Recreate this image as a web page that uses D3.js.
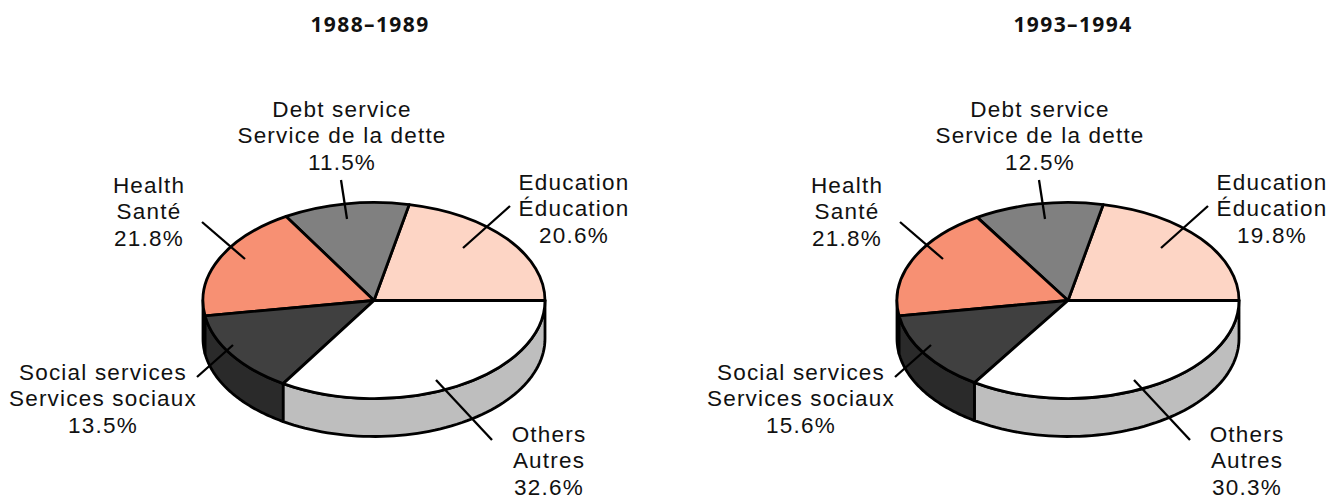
<!DOCTYPE html>
<html>
<head>
<meta charset="utf-8">
<script src="https://cdn.jsdelivr.net/npm/d3@7"></script>
<style>
  html, body { margin: 0; background: #fff; }
  svg { display: block; }
  text { font-family: "Liberation Sans", sans-serif; fill: #111; font-variant-ligatures: none; }
</style>
</head>
<body>
<svg id="chart"></svg>
<script>
// Data
const years = ["1988–1989", "1993–1994"];
const namesEn = ["Education", "Debt service", "Health", "Social services", "Others"];
const namesFr = ["Éducation", "Service de la dette", "Santé", "Services sociaux", "Autres"];
// printed percentages
const printed88 = [20.6, 11.5, 21.8, 13.5, 32.6];
const printed93 = [19.8, 12.5, 21.8, 15.6, 30.3];
// slice sizes as actually drawn in the picture, they differ a bit from the printed numbers
const drawn88 = [21.7, 11.9, 18.9, 13.6, 33.9];
const drawn93 = [21.7, 12.2, 18.6, 13.3, 34.2];

const topColors = ["#fdd5c5", "#808080", "#f79073", "#404040", "#ffffff"];
const wallColors = ["#2a2a2a", "#2a2a2a", "#2a2a2a", "#2a2a2a", "#bebebe"];

// Configurations
const width = 1343;
const height = 500;
const rx = 171; // pie radius, horizontal
const ry = 98; // pie radius, vertical
const depth = 38; // height of the side wall
const lineHeight = 26.4;

const panels = [
    {title: years[0], titleX: 370, cx: 374, cy: 300.5, printed: printed88, drawn: drawn88, labelDx: 0},
    {title: years[1], titleX: 1073, cx: 1068, cy: 300.5, printed: printed93, drawn: drawn93, labelDx: 698}
];

// label centre (x, first baseline) and leader line, relative to the left pie
const labelPos = [[574, 190], [342, 117], [149, 193], [103, 380], [549, 442]];
const leaders = [
    [[510, 206], [463, 248]],
    [[341, 180], [347, 219]],
    [[202, 222], [245, 259]],
    [[197, 377], [233, 345]],
    [[492, 440], [436, 380]]
];

const svg = d3.select("#chart")
    .attr("width", width)
    .attr("height", height)
    .attr("viewBox", [0, 0, width, height]);

const pie = d3.pie()
    .sort(null)
    .startAngle(Math.PI / 2)
    .endAngle(Math.PI / 2 - 2 * Math.PI);

const arc = d3.arc().innerRadius(0).outerRadius(1);

panels.forEach(p => {
    const x = d3.scaleLinear([-1, 1], [p.cx - rx, p.cx + rx]);
    const y = d3.scaleLinear([-1, 1], [p.cy - ry, p.cy + ry]);
    const arcs = pie(p.drawn);

    svg.append("text")
        .attr("x", p.titleX)
        .attr("y", 32)
        .attr("text-anchor", "middle")
        .attr("font-size", 21)
        .attr("font-weight", 700)
        .attr("letter-spacing", 1.4)
        .style("font-family", '"Open Sans", sans-serif')
        .text(p.title);

    // side wall, only the front half of the ellipse shows
    const wall = d3.area()
        .x(a => x(Math.sin(a)))
        .y0(a => y(-Math.cos(a)))
        .y1(a => y(-Math.cos(a)) + depth);

    arcs.forEach((d, i) => {
        const from = Math.min(d.startAngle, -Math.PI / 2);
        const to = d.endAngle;
        if (from <= to) return;
        const angles = d3.range(61).map(k => from + (to - from) * k / 60);
        svg.append("path")
            .attr("d", wall(angles))
            .attr("fill", wallColors[i])
            .attr("stroke", "#000")
            .attr("stroke-width", 2.8)
            .attr("stroke-linejoin", "round");
    });

    // top of the pie
    svg.append("g")
        .attr("transform", `translate(${p.cx},${p.cy}) scale(${rx},${ry})`)
        .selectAll("path")
        .data(arcs)
        .join("path")
        .attr("d", arc)
        .attr("fill", (d, i) => topColors[i])
        .attr("stroke", "#000")
        .attr("stroke-width", 2.8)
        .attr("stroke-linejoin", "round")
        .attr("vector-effect", "non-scaling-stroke");

    // leaders
    svg.append("g")
        .selectAll("line")
        .data(leaders)
        .join("line")
        .attr("x1", d => d[0][0] + p.labelDx)
        .attr("y1", d => d[0][1])
        .attr("x2", d => d[1][0] + p.labelDx)
        .attr("y2", d => d[1][1])
        .attr("stroke", "#000")
        .attr("stroke-width", 2.3);

    // labels
    const label = svg.append("g")
        .attr("font-size", 22.5)
        .attr("letter-spacing", 1.2)
        .attr("text-anchor", "middle")
        .selectAll("text")
        .data(namesEn)
        .join("text")
        .attr("transform", (d, i) => `translate(${labelPos[i][0] + p.labelDx},${labelPos[i][1]})`);

    label.selectAll("tspan")
        .data((d, i) => [namesEn[i], namesFr[i], p.printed[i].toFixed(1) + "%"])
        .join("tspan")
        .attr("x", 0)
        .attr("y", (d, i) => i * lineHeight)
        .text(d => d);
});
</script>
</body>
</html>
